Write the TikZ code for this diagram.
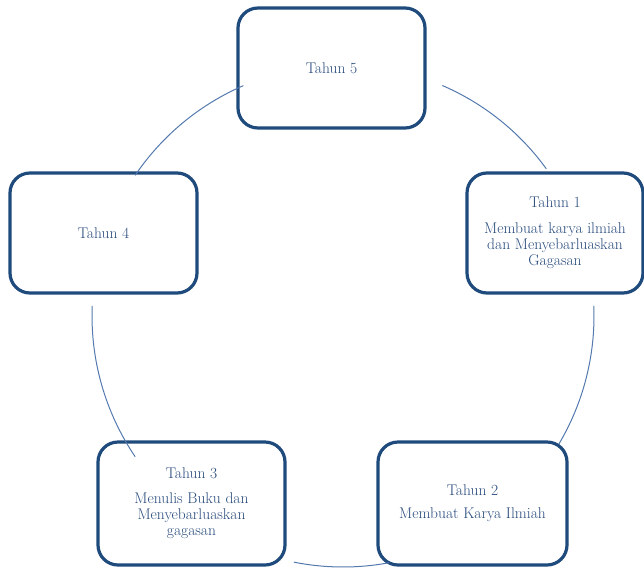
\documentclass[tikz,border=0pt]{standalone}
\definecolor{boxblue}{HTML}{1F4A7C}
\definecolor{textblue}{HTML}{274A7B}
\definecolor{ringblue}{HTML}{5479AE}
\tikzset{
  tahun/.style={draw=boxblue, line width=3.2pt, rounded corners=20pt,
    minimum width=187pt, minimum height=120pt, inner sep=0pt,
    align=center, text=textblue, font=\fontsize{15.5}{16}\selectfont},
  ring/.style={draw=ringblue, line width=1pt}
}
\begin{document}
\begin{tikzpicture}[x=1pt,y=-1pt]
  \useasboundingbox (0,0) rectangle (644,570);
  % the five years
  \node[tahun] (t5) at (331.5,68){Tahun 5};
  \node[tahun, minimum width=176pt] (t1) at (555,233){Tahun 1\\[10pt]Membuat karya ilmiah\\dan Menyebarluaskan\\Gagasan};
  \node[tahun, minimum width=189pt, minimum height=123pt] (t2) at (472.5,503.5){Tahun 2\\[7pt]Membuat Karya Ilmiah};
  \node[tahun, minimum height=123pt] (t3) at (191.5,503.5){Tahun 3\\[9pt]Menulis Buku dan\\Menyebarluaskan\\gagasan};
  \node[tahun] (t4) at (103.5,233){Tahun 4};
  % the ring between them
  \coordinate (c) at (343,316);
  \foreach \a/\b in {66.7/35.9, 2.3/-30.7, -79.4/-101.3, -145.9/-182.3, 145.9/113.4}
    \draw[ring] (c) ++(\a:251pt) arc[start angle=\a, end angle=\b, radius=251pt];
\end{tikzpicture}
\end{document}
